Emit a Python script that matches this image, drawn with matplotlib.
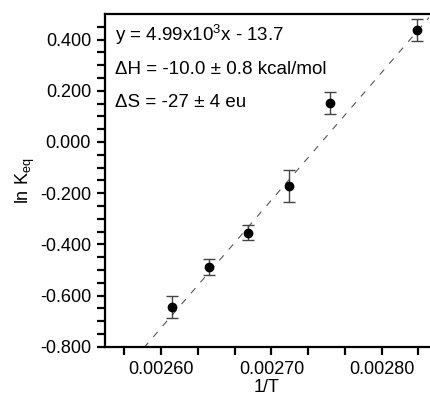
import matplotlib
matplotlib.use("Agg")
import matplotlib.pyplot as plt
import numpy as np

plt.rcParams['font.family'] = ['Liberation Sans', 'DejaVu Sans']

# data
inv_T = [0.0026096, 0.0026436, 0.002679, 0.0027158, 0.0027534, 0.0028316]
ln_keq = [-0.645, -0.489, -0.354, -0.172, 0.152, 0.437]
err = [0.043, 0.030, 0.030, 0.062, 0.042, 0.044]

# fit from the annotation
slope = 4.99e3
intercept = -13.7

fig = plt.figure(figsize=(4.30, 3.96), dpi=100)
ax = fig.add_axes([0.244, 0.1245, 0.754, 0.840])

xfit = np.array([0.00255, 0.00285])
ax.plot(xfit, slope * xfit + intercept, color='#555555', lw=0.8,
        dashes=(6, 7))
ax.errorbar(inv_T, ln_keq, yerr=err, fmt='o', color='black', ms=6,
            ecolor='#444444', elinewidth=1.0, capsize=4, capthick=1.0)

ax.set_xlim(0.002549, 0.002843)
ax.set_ylim(-0.8, 0.5)

ax.set_xticks([0.0026, 0.0027, 0.0028])
ax.set_xticklabels(['0.00260', '0.00270', '0.00280'])
ax.set_xticks([0.0026 - 0.0001 / 3 + i * 0.0001 / 3 for i in range(9)], minor=True)
ax.set_yticks([-0.8, -0.6, -0.4, -0.2, 0.0, 0.2, 0.4])
ax.set_yticklabels(['-0.800', '-0.600', '-0.400', '-0.200', '0.000', '0.200', '0.400'])
ax.set_yticks(np.arange(-0.8, 0.46, 0.05), minor=True)

for side in ['left', 'bottom', 'top']:
    ax.spines[side].set_linewidth(1.6)
ax.spines['right'].set_visible(False)

ax.tick_params(which='both', direction='out', width=1.6, length=6,
               labelsize=13, pad=4)
ax.tick_params(axis='x', which='both', top=False)

ax.set_xlabel('1/T', fontsize=13, labelpad=1)
ax.set_ylabel(r'ln K$_{\mathregular{eq}}$', fontsize=13, labelpad=2)

ax.text(0.03, 0.975, r'y = 4.99x10$^{\mathregular{3}}$x - 13.7', transform=ax.transAxes,
        fontsize=13.5, va='top', ha='left')
ax.text(0.03, 0.86, '\u0394H = -10.0 \u00b1 0.8 kcal/mol', transform=ax.transAxes,
        fontsize=13.5, va='top', ha='left')
ax.text(0.03, 0.76, '\u0394S = -27 \u00b1 4 eu', transform=ax.transAxes,
        fontsize=13.5, va='top', ha='left')

fig.savefig('out.png', dpi=100)
